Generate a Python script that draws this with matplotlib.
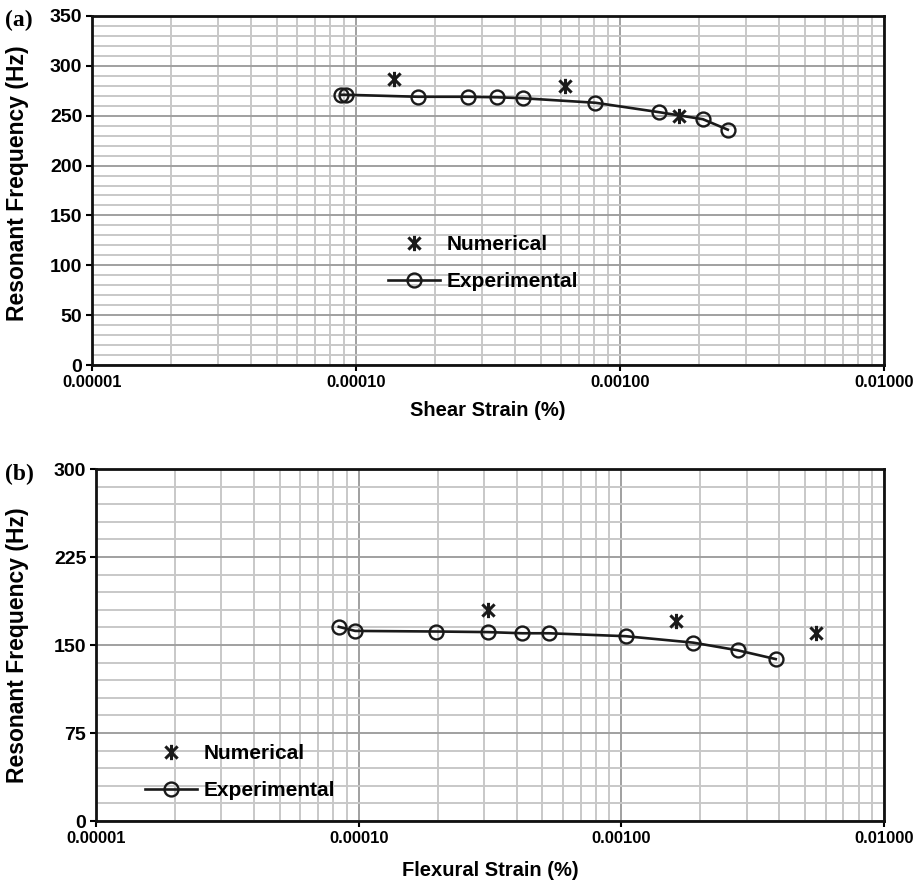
#!/usr/bin/env python3
"""
Resonant frequency vs strain: numerical vs experimental
Two stacked panels, log strain axis, Excel-like grid
"""

import matplotlib
matplotlib.use("Agg")
import matplotlib.pyplot as plt
from matplotlib.path import Path
from matplotlib.ticker import MultipleLocator, LogLocator, FormatStrFormatter, NullFormatter

# ---- data ----
# (a) shear strain
shear_exp_x = [8.75e-5, 9.15e-5, 1.72e-4, 2.65e-4, 3.42e-4, 4.30e-4, 8.07e-4, 1.41e-3, 2.06e-3, 2.56e-3]
shear_exp_y = [271, 271, 269, 269, 268.5, 267.5, 263, 253.5, 246.5, 236]
shear_num_x = [1.39e-4, 6.2e-4, 1.68e-3]
shear_num_y = [287, 280, 249.5]

# (b) flexural strain
flex_exp_x = [8.4e-5, 9.7e-5, 1.97e-4, 3.1e-4, 4.2e-4, 5.3e-4, 1.04e-3, 1.88e-3, 2.77e-3, 3.87e-3]
flex_exp_y = [165.5, 162, 161.5, 161, 160, 160, 157.5, 152, 145.5, 138]
flex_num_x = [3.1e-4, 1.62e-3, 5.5e-3]
flex_num_y = [180, 170.5, 160]

plt.rcParams['font.family'] = ['Liberation Sans', 'DejaVu Sans']
plt.rcParams['font.weight'] = 'bold'

# asterisk marker: X plus a vertical stroke (Excel "star")
STAR = Path([(-1, -1), (1, 1), (-1, 1), (1, -1), (0, -1.25), (0, 1.25)],
            [Path.MOVETO, Path.LINETO] * 3)

MINOR_GREY = '#c8c8c8'
MAJOR_GREY = '#a0a0a0'


def draw_panel(ax, exp_x, exp_y, num_x, num_y, ymax, ystep, yminor, xlabel, legend_anchor):
    ax.set_xscale('log')
    ax.set_xlim(1e-5, 1e-2)
    ax.set_ylim(0, ymax)

    ax.yaxis.set_major_locator(MultipleLocator(ystep))
    ax.yaxis.set_minor_locator(MultipleLocator(yminor))
    ax.xaxis.set_major_locator(LogLocator(base=10, numticks=10))
    ax.xaxis.set_minor_locator(LogLocator(base=10, subs=range(2, 10), numticks=20))
    ax.xaxis.set_major_formatter(FormatStrFormatter('%.5f'))
    ax.xaxis.set_minor_formatter(NullFormatter())

    # grid
    ax.set_axisbelow(True)
    ax.grid(which='minor', color=MINOR_GREY, linewidth=1.4)
    ax.grid(which='major', color=MAJOR_GREY, linewidth=1.4)

    ax.tick_params(which='major', direction='out', length=4, width=1.5, pad=3)
    ax.tick_params(axis='x', labelsize=12)
    ax.tick_params(axis='y', labelsize=14)
    ax.tick_params(which='minor', length=0)
    for lab in ax.get_xticklabels() + ax.get_yticklabels():
        lab.set_fontweight('bold')

    for sp in ax.spines.values():
        sp.set_linewidth(2)
        sp.set_color('#111111')

    # data
    ax.plot(num_x, num_y, linestyle='none', marker=STAR, markersize=11,
            markeredgewidth=2.2, color='#1a1a1a', label='Numerical', zorder=4)
    ax.plot(exp_x, exp_y, '-', color='#1a1a1a', linewidth=1.9, marker='o',
            markersize=10, markerfacecolor='none', markeredgewidth=1.7,
            label='Experimental', zorder=3)

    ax.set_ylabel('Resonant Frequency (Hz)', fontsize=16.5, fontweight='bold')
    ax.set_xlabel(xlabel, fontsize=14.5, fontweight='bold')

    leg = ax.legend(loc='upper left', bbox_to_anchor=legend_anchor, frameon=False,
                    prop={'size': 15, 'weight': 'bold'}, handlelength=2.5,
                    handletextpad=0.3, labelspacing=0.85, borderpad=0,
                    borderaxespad=0)
    return leg


fig = plt.figure(figsize=(9.15, 8.83), dpi=100, facecolor='white')

ax_a = fig.add_axes([92 / 915, 1 - 365 / 883, 792 / 915, 349 / 883])
draw_panel(ax_a, shear_exp_x, shear_exp_y, shear_num_x, shear_num_y,
           350, 50, 10, 'Shear Strain (%)', (0.374, 0.372))
ax_a.yaxis.set_label_coords(-0.079, 0.52)
ax_a.xaxis.set_label_coords(0.5, -0.103)

ax_b = fig.add_axes([96 / 915, 1 - 821 / 883, 788 / 915, 352 / 883])
draw_panel(ax_b, flex_exp_x, flex_exp_y, flex_num_x, flex_num_y,
           300, 75, 15, 'Flexural Strain (%)', (0.062, 0.218))
ax_b.yaxis.set_label_coords(-0.085, 0.5)
ax_b.xaxis.set_label_coords(0.5, -0.114)

# panel letters
fig.text(5 / 915, 1 - 20 / 883, '(a)', family='Liberation Serif', fontsize=17,
         fontweight='bold', va='center', ha='left')
fig.text(5 / 915, 1 - 474 / 883, '(b)', family='Liberation Serif', fontsize=17,
         fontweight='bold', va='center', ha='left')

fig.savefig('out.png', dpi=100, facecolor='white')
plt.close(fig)
